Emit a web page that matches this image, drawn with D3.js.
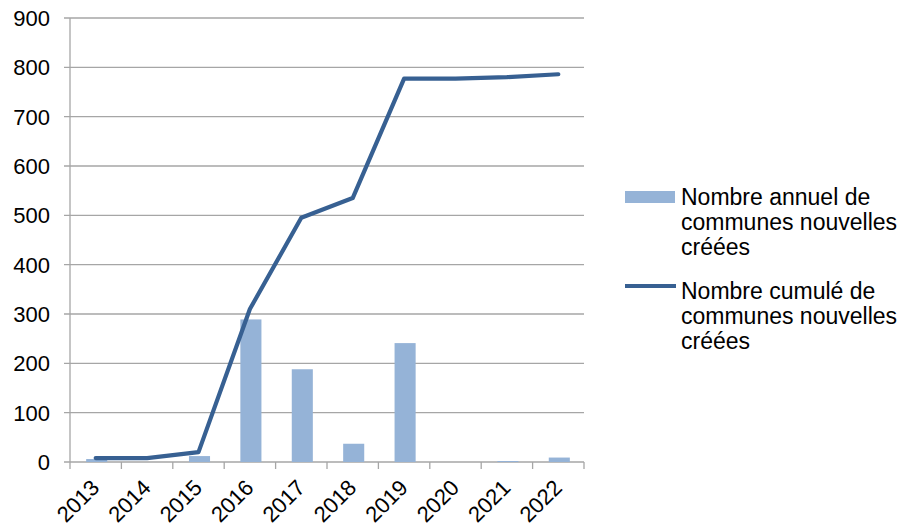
<!DOCTYPE html>
<html>
<head>
<meta charset="utf-8">
<script src="https://cdn.jsdelivr.net/npm/d3@7"></script>
<style>
  body { margin: 0; background: #fff; }
  text { font-family: "Liberation Sans", Arial, sans-serif; fill: #000; }
</style>
</head>
<body>
<svg id="chart" width="902" height="532"></svg>
<script>
// data
const years = ["2013", "2014", "2015", "2016", "2017", "2018", "2019", "2020", "2021", "2022"];
const annual = [6, 0, 12, 289, 188, 37, 241, 0, 2, 9];
const cumulative = [8, 8, 20, 310, 495, 535, 777, 777, 780, 786];
const yTicks = [0, 100, 200, 300, 400, 500, 600, 700, 800, 900];
const legendBar = ["Nombre annuel de", "communes nouvelles", "créées"];
const legendLine = ["Nombre cumulé de", "communes nouvelles", "créées"];

var margin = { top: 18, left: 70 };
var width = 514, height = 444;

const svg = d3.select("#chart")
  .append("g")
  .attr("transform", `translate(${margin.left},${margin.top})`);

const x = d3.scaleBand().domain(years).range([0, width]);
const y = d3.scaleLinear().domain([0, 900]).range([height, 0]);

// gridlines
svg.selectAll(".grid")
  .data(yTicks)
  .enter()
  .append("line")
  .attr("x1", -6)
  .attr("x2", width)
  .attr("y1", d => y(d))
  .attr("y2", d => y(d))
  .style("stroke", "#a6a6a6")
  .style("stroke-width", 1.3);

// y labels
svg.selectAll(".ylab")
  .data(yTicks)
  .enter()
  .append("text")
  .attr("x", -20)
  .attr("y", d => y(d))
  .attr("dy", "0.36em")
  .attr("text-anchor", "end")
  .style("font-size", "22px")
  .text(d => d);

// y axis line
svg.append("line")
  .attr("x1", 0).attr("x2", 0)
  .attr("y1", 0).attr("y2", height)
  .style("stroke", "#a6a6a6")
  .style("stroke-width", 1.3);

// x axis ticks at band edges
svg.selectAll(".xtick")
  .data(d3.range(years.length + 1))
  .enter()
  .append("line")
  .attr("x1", i => i * x.step())
  .attr("x2", i => i * x.step())
  .attr("y1", height)
  .attr("y2", height + 7)
  .style("stroke", "#a6a6a6")
  .style("stroke-width", 1.3);

// bars
const barW = x.bandwidth() * 0.41;
svg.selectAll(".bar")
  .data(years)
  .enter()
  .append("rect")
  .attr("x", (d) => x(d) + x.bandwidth() / 2 - barW / 2 + 1)
  .attr("width", barW)
  .attr("y", (d, i) => y(annual[i]))
  .attr("height", (d, i) => height - y(annual[i]))
  .style("fill", "#95b3d7");

// x labels
svg.selectAll(".xlab")
  .data(years)
  .enter()
  .append("text")
  .attr("transform", d => `translate(${x(d) + x.bandwidth() / 2 + 5},${height + 27}) rotate(-45)`)
  .attr("text-anchor", "end")
  .style("font-size", "22px")
  .text(d => d);

// cumulative line
const line = d3.line()
  .x((d, i) => x(years[i]) + x.bandwidth() / 2)
  .y(d => y(d));

svg.append("path")
  .attr("d", line(cumulative))
  .style("fill", "none")
  .style("stroke", "#376092")
  .style("stroke-width", 4.2)
  .style("stroke-linejoin", "round")
  .style("stroke-linecap", "round");

// legend
const lg = d3.select("#chart").append("g");
lg.append("rect")
  .attr("x", 625).attr("y", 191)
  .attr("width", 50).attr("height", 12)
  .style("fill", "#95b3d7");
lg.append("line")
  .attr("x1", 625).attr("x2", 676)
  .attr("y1", 286).attr("y2", 286)
  .style("stroke", "#376092")
  .style("stroke-width", 4.2);

lg.selectAll(".lt1")
  .data(legendBar)
  .enter()
  .append("text")
  .attr("x", 681)
  .attr("y", (d, i) => 205 + i * 25)
  .style("font-size", "23px")
  .text(d => d);

lg.selectAll(".lt2")
  .data(legendLine)
  .enter()
  .append("text")
  .attr("x", 681)
  .attr("y", (d, i) => 299 + i * 25)
  .style("font-size", "23px")
  .text(d => d);
</script>
</body>
</html>
